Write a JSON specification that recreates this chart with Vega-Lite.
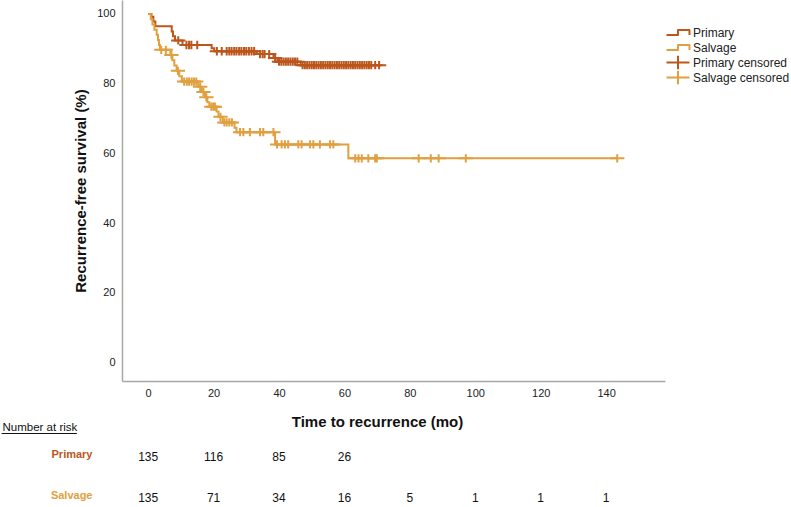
{
  "$schema": "https://vega.github.io/schema/vega-lite/v6.json",
  "width": 543,
  "height": 381,
  "autosize": {"type": "none"},
  "padding": {"left": 122, "top": 0, "right": 126, "bottom": 126},
  "background": "white",
  "config": {
    "view": {"stroke": null},
    "font": "Liberation Sans",
    "axis": {
      "grid": false, "ticks": false, "tickSize": 0,
      "domainColor": "#a8a8a8", "domainWidth": 1.5,
      "labelFont": "Liberation Sans", "labelFontSize": 11, "labelColor": "#222",
      "titleFont": "Liberation Sans", "titleFontSize": 15, "titleFontWeight": "bold", "titleColor": "#111"
    }
  },
  "datasets": {
    "curves": [
      {"series": "Primary", "time": 0, "survival": 100},
      {"series": "Primary", "time": 1.0, "survival": 99.2},
      {"series": "Primary", "time": 1.6, "survival": 97.8},
      {"series": "Primary", "time": 2.2, "survival": 96.5},
      {"series": "Primary", "time": 7.2, "survival": 95.0},
      {"series": "Primary", "time": 7.6, "survival": 93.6},
      {"series": "Primary", "time": 8.2, "survival": 92.4},
      {"series": "Primary", "time": 10.5, "survival": 91.1},
      {"series": "Primary", "time": 19.4, "survival": 90.2},
      {"series": "Primary", "time": 20.2, "survival": 89.3},
      {"series": "Primary", "time": 33.2, "survival": 88.5},
      {"series": "Primary", "time": 38.3, "survival": 87.4},
      {"series": "Primary", "time": 39.5, "survival": 86.3},
      {"series": "Primary", "time": 46.6, "survival": 85.3},
      {"series": "Primary", "time": 70.6, "survival": 85.3},
      {"series": "Salvage", "time": 0, "survival": 100},
      {"series": "Salvage", "time": 0.8, "survival": 98.5},
      {"series": "Salvage", "time": 1.3, "survival": 97.0},
      {"series": "Salvage", "time": 1.9, "survival": 95.5},
      {"series": "Salvage", "time": 2.6, "survival": 94.0},
      {"series": "Salvage", "time": 3.0, "survival": 92.5},
      {"series": "Salvage", "time": 3.3, "survival": 91.1},
      {"series": "Salvage", "time": 3.6, "survival": 89.7},
      {"series": "Salvage", "time": 6.8, "survival": 88.2},
      {"series": "Salvage", "time": 7.4, "survival": 86.7},
      {"series": "Salvage", "time": 8.0, "survival": 85.2},
      {"series": "Salvage", "time": 8.7, "survival": 83.7},
      {"series": "Salvage", "time": 9.5, "survival": 82.1},
      {"series": "Salvage", "time": 10.3, "survival": 80.6},
      {"series": "Salvage", "time": 15.3, "survival": 79.1},
      {"series": "Salvage", "time": 16.4, "survival": 77.6},
      {"series": "Salvage", "time": 17.4, "survival": 76.1},
      {"series": "Salvage", "time": 18.1, "survival": 74.7},
      {"series": "Salvage", "time": 18.7, "survival": 73.4},
      {"series": "Salvage", "time": 20.9, "survival": 72.0},
      {"series": "Salvage", "time": 21.5, "survival": 70.5},
      {"series": "Salvage", "time": 22.8, "survival": 68.9},
      {"series": "Salvage", "time": 26.4, "survival": 67.4},
      {"series": "Salvage", "time": 27.0, "survival": 66.1},
      {"series": "Salvage", "time": 38.8, "survival": 62.6},
      {"series": "Salvage", "time": 61.2, "survival": 58.6},
      {"series": "Salvage", "time": 143.5, "survival": 58.6}
    ],
    "censored": [
      {"series": "Primary censored", "time": 9.2, "survival": 92.4},
      {"series": "Primary censored", "time": 11.7, "survival": 91.1},
      {"series": "Primary censored", "time": 12.5, "survival": 91.1},
      {"series": "Primary censored", "time": 13.2, "survival": 91.1},
      {"series": "Primary censored", "time": 15.0, "survival": 91.1},
      {"series": "Primary censored", "time": 21.0, "survival": 89.3},
      {"series": "Primary censored", "time": 22.5, "survival": 89.3},
      {"series": "Primary censored", "time": 24.0, "survival": 89.3},
      {"series": "Primary censored", "time": 24.8, "survival": 89.3},
      {"series": "Primary censored", "time": 25.5, "survival": 89.3},
      {"series": "Primary censored", "time": 26.3, "survival": 89.3},
      {"series": "Primary censored", "time": 27.0, "survival": 89.3},
      {"series": "Primary censored", "time": 27.8, "survival": 89.3},
      {"series": "Primary censored", "time": 28.5, "survival": 89.3},
      {"series": "Primary censored", "time": 29.3, "survival": 89.3},
      {"series": "Primary censored", "time": 30.0, "survival": 89.3},
      {"series": "Primary censored", "time": 30.8, "survival": 89.3},
      {"series": "Primary censored", "time": 31.6, "survival": 89.3},
      {"series": "Primary censored", "time": 32.4, "survival": 89.3},
      {"series": "Primary censored", "time": 34.2, "survival": 88.5},
      {"series": "Primary censored", "time": 35.0, "survival": 88.5},
      {"series": "Primary censored", "time": 35.6, "survival": 88.5},
      {"series": "Primary censored", "time": 37.0, "survival": 88.5},
      {"series": "Primary censored", "time": 38.8, "survival": 87.4},
      {"series": "Primary censored", "time": 40.0, "survival": 86.3},
      {"series": "Primary censored", "time": 40.7, "survival": 86.3},
      {"series": "Primary censored", "time": 41.4, "survival": 86.3},
      {"series": "Primary censored", "time": 42.1, "survival": 86.3},
      {"series": "Primary censored", "time": 42.8, "survival": 86.3},
      {"series": "Primary censored", "time": 43.5, "survival": 86.3},
      {"series": "Primary censored", "time": 44.2, "survival": 86.3},
      {"series": "Primary censored", "time": 44.9, "survival": 86.3},
      {"series": "Primary censored", "time": 45.6, "survival": 86.3},
      {"series": "Primary censored", "time": 47.2, "survival": 85.3},
      {"series": "Primary censored", "time": 47.9, "survival": 85.3},
      {"series": "Primary censored", "time": 48.6, "survival": 85.3},
      {"series": "Primary censored", "time": 49.3, "survival": 85.3},
      {"series": "Primary censored", "time": 50.0, "survival": 85.3},
      {"series": "Primary censored", "time": 50.7, "survival": 85.3},
      {"series": "Primary censored", "time": 51.4, "survival": 85.3},
      {"series": "Primary censored", "time": 52.1, "survival": 85.3},
      {"series": "Primary censored", "time": 52.8, "survival": 85.3},
      {"series": "Primary censored", "time": 53.5, "survival": 85.3},
      {"series": "Primary censored", "time": 54.2, "survival": 85.3},
      {"series": "Primary censored", "time": 54.9, "survival": 85.3},
      {"series": "Primary censored", "time": 55.6, "survival": 85.3},
      {"series": "Primary censored", "time": 56.3, "survival": 85.3},
      {"series": "Primary censored", "time": 57.0, "survival": 85.3},
      {"series": "Primary censored", "time": 57.7, "survival": 85.3},
      {"series": "Primary censored", "time": 58.4, "survival": 85.3},
      {"series": "Primary censored", "time": 59.1, "survival": 85.3},
      {"series": "Primary censored", "time": 59.8, "survival": 85.3},
      {"series": "Primary censored", "time": 60.5, "survival": 85.3},
      {"series": "Primary censored", "time": 61.2, "survival": 85.3},
      {"series": "Primary censored", "time": 61.9, "survival": 85.3},
      {"series": "Primary censored", "time": 62.6, "survival": 85.3},
      {"series": "Primary censored", "time": 63.3, "survival": 85.3},
      {"series": "Primary censored", "time": 64.0, "survival": 85.3},
      {"series": "Primary censored", "time": 64.7, "survival": 85.3},
      {"series": "Primary censored", "time": 65.4, "survival": 85.3},
      {"series": "Primary censored", "time": 66.1, "survival": 85.3},
      {"series": "Primary censored", "time": 66.8, "survival": 85.3},
      {"series": "Primary censored", "time": 67.5, "survival": 85.3},
      {"series": "Primary censored", "time": 68.2, "survival": 85.3},
      {"series": "Primary censored", "time": 69.4, "survival": 85.3},
      {"series": "Primary censored", "time": 70.6, "survival": 85.3},
      {"series": "Salvage censored", "time": 4.0, "survival": 89.7},
      {"series": "Salvage censored", "time": 5.4, "survival": 89.7},
      {"series": "Salvage censored", "time": 7.1, "survival": 88.2},
      {"series": "Salvage censored", "time": 9.1, "survival": 83.7},
      {"series": "Salvage censored", "time": 11.0, "survival": 80.6},
      {"series": "Salvage censored", "time": 11.8, "survival": 80.6},
      {"series": "Salvage censored", "time": 12.5, "survival": 80.6},
      {"series": "Salvage censored", "time": 13.3, "survival": 80.6},
      {"series": "Salvage censored", "time": 14.0, "survival": 80.6},
      {"series": "Salvage censored", "time": 14.7, "survival": 80.6},
      {"series": "Salvage censored", "time": 15.9, "survival": 79.1},
      {"series": "Salvage censored", "time": 16.9, "survival": 77.6},
      {"series": "Salvage censored", "time": 17.8, "survival": 76.1},
      {"series": "Salvage censored", "time": 19.3, "survival": 73.4},
      {"series": "Salvage censored", "time": 19.9, "survival": 73.4},
      {"series": "Salvage censored", "time": 20.4, "survival": 73.4},
      {"series": "Salvage censored", "time": 22.1, "survival": 70.5},
      {"series": "Salvage censored", "time": 23.3, "survival": 68.9},
      {"series": "Salvage censored", "time": 24.0, "survival": 68.9},
      {"series": "Salvage censored", "time": 24.8, "survival": 68.9},
      {"series": "Salvage censored", "time": 25.6, "survival": 68.9},
      {"series": "Salvage censored", "time": 28.1, "survival": 66.1},
      {"series": "Salvage censored", "time": 29.1, "survival": 66.1},
      {"series": "Salvage censored", "time": 31.1, "survival": 66.1},
      {"series": "Salvage censored", "time": 34.2, "survival": 66.1},
      {"series": "Salvage censored", "time": 35.2, "survival": 66.1},
      {"series": "Salvage censored", "time": 38.3, "survival": 66.1},
      {"series": "Salvage censored", "time": 39.4, "survival": 62.6},
      {"series": "Salvage censored", "time": 40.8, "survival": 62.6},
      {"series": "Salvage censored", "time": 41.8, "survival": 62.6},
      {"series": "Salvage censored", "time": 42.8, "survival": 62.6},
      {"series": "Salvage censored", "time": 45.9, "survival": 62.6},
      {"series": "Salvage censored", "time": 46.9, "survival": 62.6},
      {"series": "Salvage censored", "time": 49.5, "survival": 62.6},
      {"series": "Salvage censored", "time": 50.5, "survival": 62.6},
      {"series": "Salvage censored", "time": 52.5, "survival": 62.6},
      {"series": "Salvage censored", "time": 55.6, "survival": 62.6},
      {"series": "Salvage censored", "time": 56.6, "survival": 62.6},
      {"series": "Salvage censored", "time": 63.3, "survival": 58.6},
      {"series": "Salvage censored", "time": 64.3, "survival": 58.6},
      {"series": "Salvage censored", "time": 65.3, "survival": 58.6},
      {"series": "Salvage censored", "time": 67.3, "survival": 58.6},
      {"series": "Salvage censored", "time": 69.4, "survival": 58.6},
      {"series": "Salvage censored", "time": 69.9, "survival": 58.6},
      {"series": "Salvage censored", "time": 82.7, "survival": 58.6},
      {"series": "Salvage censored", "time": 86.4, "survival": 58.6},
      {"series": "Salvage censored", "time": 88.8, "survival": 58.6},
      {"series": "Salvage censored", "time": 97.1, "survival": 58.6},
      {"series": "Salvage censored", "time": 143.4, "survival": 58.6}
    ],
    "risk": [
      {"group": "Primary", "time": 0, "n": 135},
      {"group": "Primary", "time": 20, "n": 116},
      {"group": "Primary", "time": 40, "n": 85},
      {"group": "Primary", "time": 60, "n": 26},
      {"group": "Salvage", "time": 0, "n": 135},
      {"group": "Salvage", "time": 20, "n": 71},
      {"group": "Salvage", "time": 40, "n": 34},
      {"group": "Salvage", "time": 60, "n": 16},
      {"group": "Salvage", "time": 80, "n": 5},
      {"group": "Salvage", "time": 100, "n": 1},
      {"group": "Salvage", "time": 120, "n": 1},
      {"group": "Salvage", "time": 140, "n": 1}
    ]
  },
  "layer": [
    {
      "layer": [
        {
          "data": {"name": "curves"},
          "mark": {"type": "line", "interpolate": "step-after", "strokeWidth": 2},
          "encoding": {
            "x": {
              "field": "time", "type": "quantitative",
              "scale": {"domain": [-8, 158], "nice": false, "zero": false},
              "axis": {
                "values": [0, 20, 40, 60, 80, 100, 120, 140],
                "labelPadding": 6,
                "title": "Time to recurrence (mo)",
                "titleX": 255, "titleY": 40, "titleBaseline": "middle"
              }
            },
            "y": {
              "field": "survival", "type": "quantitative",
              "scale": {"domain": [-5.25, 104], "nice": false, "zero": false},
              "axis": {
                "values": [0, 20, 40, 60, 80, 100],
                "labelPadding": 7,
                "title": "Recurrence-free survival (%)",
                "titleX": -42, "titleBaseline": "middle"
              }
            },
            "color": {
              "field": "series", "type": "nominal",
              "scale": {
                "domain": ["Primary", "Salvage", "Primary censored", "Salvage censored"],
                "range": ["#bb561c", "#e0a040", "#bb561c", "#e0a040"]
              },
              "legend": {
                "title": null, "orient": "none", "legendX": 549, "legendY": 25.5, "padding": 0,
                "symbolSize": 132, "symbolStrokeWidth": 2,
                "labelFont": "Liberation Sans", "labelFontSize": 12, "labelColor": "#222",
                "labelOffset": 8, "rowPadding": -1.2, "gridAlign": "all",
                "encode": {"symbols": {"update": {"fill": {"value": "transparent"}, "strokeWidth": {"value": 2}, "strokeJoin": {"value": "round"}, "opacity": {"value": 1}}}}
              }
            }
          }
        },
        {
          "data": {"name": "censored"},
          "mark": {"type": "point", "filled": false, "strokeWidth": 2, "size": 51, "opacity": 1},
          "encoding": {
            "x": {"field": "time", "type": "quantitative"},
            "y": {"field": "survival", "type": "quantitative"},
            "color": {"field": "series", "type": "nominal"},
            "shape": {
              "field": "series", "type": "nominal",
              "scale": {
                "domain": ["Primary", "Salvage", "Primary censored", "Salvage censored"],
                "range": ["M-2,0.43H0V-0.43H2V0.43", "M-2,0.43H0V-0.43H2V0.43", "M-2,0H2M0,-1.16V1.16", "M-2,0H2M0,-1.16V1.16"]
              }
            }
          }
        },
        {
          "data": {"values": [{}]},
          "mark": {"type": "rule", "color": "#111", "strokeWidth": 1},
          "encoding": {
            "x": {"datum": -44.8},
            "x2": {"datum": -21.8},
            "y": {"datum": -20.3}
          }
        }
      ]
    },
    {
      "data": {"name": "risk"},
      "mark": {"type": "text", "font": "Liberation Sans", "fontSize": 12, "color": "#111", "align": "center", "baseline": "middle"},
      "encoding": {
        "x": {"field": "time", "type": "quantitative"},
        "y": {
          "field": "group", "type": "nominal",
          "scale": {"type": "point", "domain": ["Primary", "Salvage"], "range": [457, 498], "padding": 0},
          "axis": {
            "orient": "left", "domain": false, "ticks": false, "tickSize": 0,
            "labelPadding": 30, "labelOffset": -2.5,
            "labelFontWeight": "bold", "labelFontSize": 11,
            "labelColor": {"expr": "datum.value == 'Primary' ? '#bb561c' : '#e0a040'"},
            "title": "Number at risk", "titleAngle": 0, "titleAlign": "left",
            "titleX": -120, "titleY": 427, "titleBaseline": "middle",
            "titleFontWeight": "normal", "titleFontSize": 11.5, "titleColor": "#111"
          }
        },
        "text": {"field": "n", "type": "quantitative"}
      }
    }
  ],
  "resolve": {"scale": {"y": "independent"}, "axis": {"y": "independent"}}
}
